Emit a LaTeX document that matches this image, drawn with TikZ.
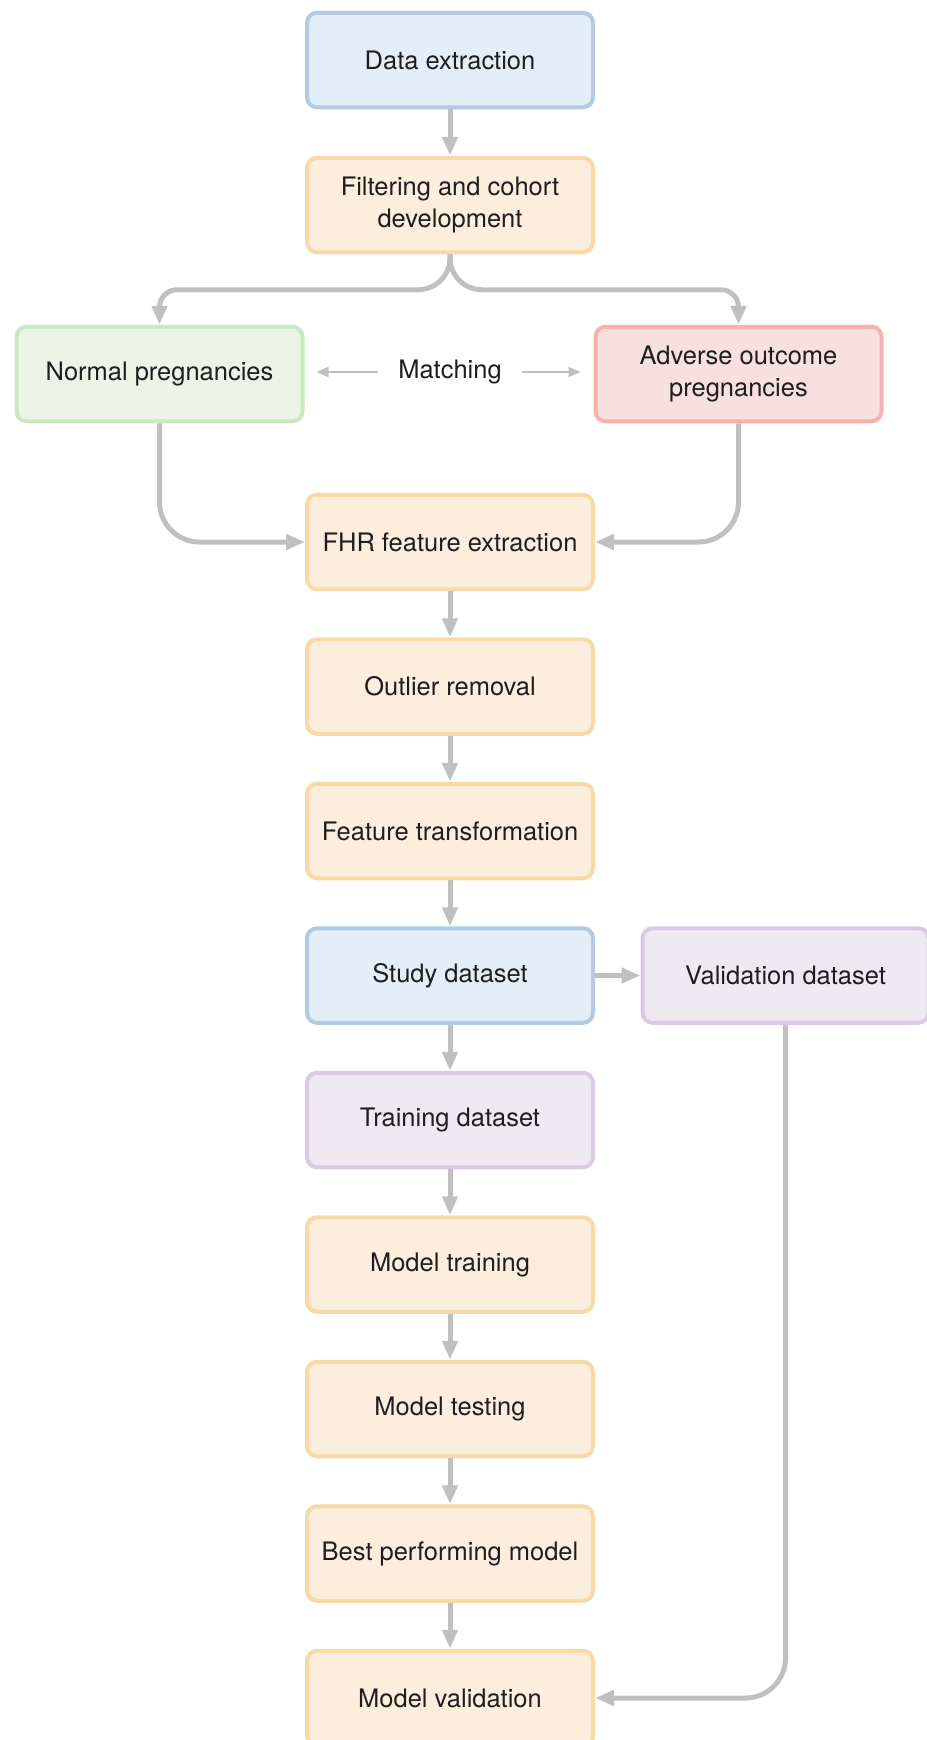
\documentclass[tikz,border=0pt]{standalone}
\usepackage{fontspec}
\setmainfont{TeX Gyre Heros}
\usepackage{xcolor}
\usetikzlibrary{arrows.meta}
\definecolor{bluefill}{HTML}{E3EEF8}
\definecolor{blueline}{HTML}{B4CAE2}
\definecolor{orangefill}{HTML}{FCEEDC}
\definecolor{orangeline}{HTML}{F8DAA6}
\definecolor{greenfill}{HTML}{EAF5E6}
\definecolor{greenline}{HTML}{CBE8C3}
\definecolor{redfill}{HTML}{F8E0DE}
\definecolor{redline}{HTML}{F6B2AE}
\definecolor{purplefill}{HTML}{EFE9F2}
\definecolor{purpleline}{HTML}{DCC9E3}
\definecolor{arrowgray}{HTML}{C0C0C0}
\definecolor{textblack}{HTML}{1E1E1E}

\begin{document}
\begin{tikzpicture}[>={Triangle[length=0.38cm,width=0.3cm]},
  base/.style={rectangle, rounded corners=0.2cm, line width=0.08cm,
    minimum width=5.72cm, minimum height=1.89cm, align=center,
    text=textblack, font=\fontsize{14.5}{18}\selectfont},
  databox/.style={base, draw=blueline, fill=bluefill},
  procbox/.style={base, draw=orangeline, fill=orangefill},
  normbox/.style={base, draw=greenline, fill=greenfill},
  advbox/.style={base, draw=redline, fill=redfill},
  setbox/.style={base, draw=purpleline, fill=purplefill},
  flow/.style={->, draw=arrowgray, line width=0.1cm},
  matcharrow/.style={-{Triangle[length=0.24cm,width=0.2cm]}, draw=arrowgray, line width=0.04cm}]
\useasboundingbox (0,0) rectangle (18.54,-34.8);
%%%BOXES
\node[databox] (data) at (9,-1.2) {Data extraction};
\node[procbox] (filter) at (9,-4.1) {Filtering and cohort\\development};
\node[normbox] (normal) at (3.19,-7.48) {Normal pregnancies};
\node[advbox] (adverse) at (14.77,-7.48) {Adverse outcome\\pregnancies};
\node[text=textblack, font=\fontsize{14.5}{18}\selectfont, inner xsep=0.4cm] (match) at (9,-7.44) {Matching};
\node[procbox] (fhr) at (9,-10.84) {FHR feature extraction};
\node[procbox] (outlier) at (9,-13.73) {Outlier removal};
\node[procbox] (transform) at (9,-16.62) {Feature transformation};
\node[databox] (study) at (9,-19.51) {Study dataset};
\node[setbox] (valid) at (15.71,-19.51) {Validation dataset};
\node[setbox] (train) at (9,-22.40) {Training dataset};
\node[procbox] (mtrain) at (9,-25.29) {Model training};
\node[procbox] (mtest) at (9,-28.18) {Model testing};
\node[procbox] (best) at (9,-31.07) {Best performing model};
\node[procbox] (mvalid) at (9,-33.96) {Model validation};
%%%ARROWS
\draw[flow] (data) -- (filter);
\draw[flow] (filter.south) [rounded corners=0.64cm] -- ++(0,-0.71) [rounded corners=0.35cm] -| (normal.north);
\draw[flow] (filter.south) [rounded corners=0.64cm] -- ++(0,-0.71) [rounded corners=0.35cm] -| (adverse.north);
\draw[matcharrow, shorten >=0.24cm] (match.west) -- (match.west -| normal.east);
\draw[matcharrow, shorten >=0.26cm] (match.east) -- (match.east -| adverse.west);
\draw[flow, rounded corners=0.8cm] (normal.south) |- (fhr.west);
\draw[flow, rounded corners=0.8cm] (adverse.south) |- (fhr.east);
\draw[flow] (fhr) -- (outlier);
\draw[flow] (outlier) -- (transform);
\draw[flow] (transform) -- (study);
\draw[flow] (study) -- (valid);
\draw[flow] (study) -- (train);
\draw[flow] (train) -- (mtrain);
\draw[flow] (mtrain) -- (mtest);
\draw[flow] (mtest) -- (best);
\draw[flow] (best) -- (mvalid);
\draw[flow, rounded corners=0.8cm] (valid.south) |- (mvalid.east);
\end{tikzpicture}
\end{document}
